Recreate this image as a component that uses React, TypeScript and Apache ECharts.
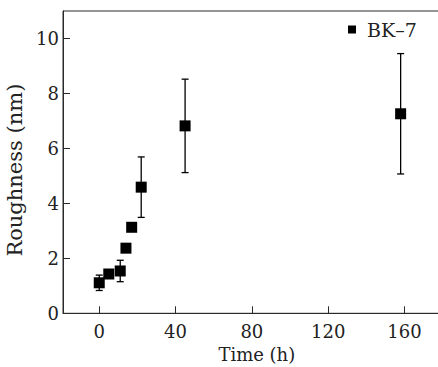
import React, { useEffect, useRef } from "react";
import * as echarts from "echarts";

const seriesName = "BK–7";
const times = [0, 5, 11, 14, 17, 22, 45, 158];
const roughness = [1.11, 1.43, 1.54, 2.37, 3.13, 4.59, 6.82, 7.26];
const errors = [0.28, 0, 0.39, 0, 0, 1.1, 1.7, 2.19];
const xTicks = [0, 40, 80, 120, 160];
const yTicks = [0, 2, 4, 6, 8, 10];

const FONT = "DejaVu Serif";
const AX = "#2a2a2a";

export default function App() {
  const ref = useRef<HTMLDivElement>(null);
  useEffect(() => {
    if (!ref.current) return;
    const chart = echarts.init(ref.current, undefined, { renderer: "svg" });
    const pts = times.map((t, i) => [t, roughness[i]]);
    const bars = times
      .map((t, i) => [t, roughness[i] - errors[i], roughness[i] + errors[i], errors[i]])
      .filter((d) => d[3] > 0);
    chart.setOption({
      animation: false,
      backgroundColor: "#fff",
      textStyle: { fontFamily: FONT },
      grid: {
        left: 63,
        top: 11,
        width: 379.6,
        bottom: 53.7,
        show: true,
        borderColor: AX,
        borderWidth: 1,
        containLabel: false,
        outerBoundsMode: "none",
      },
      legend: {
        data: [seriesName],
        left: 343,
        top: 15,
        icon: "rect",
        itemWidth: 8,
        itemHeight: 8,
        textStyle: { fontFamily: FONT, fontSize: 19, color: "#222", padding: [0, 0, 0, 6] },
      },
      xAxis: {
        type: "value",
        min: -19,
        max: 180,
        name: "Time (h)",
        nameLocation: "middle",
        nameGap: 32,
        nameTextStyle: { fontFamily: FONT, fontSize: 18, color: "#222", padding: [0, 0, 0, 8] },
        axisLine: { show: true, onZero: false, lineStyle: { color: AX, width: 1 } },
        axisTick: { show: true, inside: true, length: 7, customValues: xTicks, lineStyle: { color: AX, width: 1 } },
        axisLabel: { customValues: xTicks, fontFamily: FONT, fontSize: 18, color: "#222", margin: 9 },
        splitLine: { show: false },
      },
      yAxis: {
        type: "value",
        min: 0,
        max: 11,
        name: "Roughness (nm)",
        nameLocation: "middle",
        nameGap: 31,
        nameTextStyle: { fontFamily: FONT, fontSize: 21, color: "#222", padding: [0, 16, 0, 0] },
        axisLine: { show: true, onZero: false, lineStyle: { color: AX, width: 1 } },
        axisTick: { show: true, inside: true, length: 7, customValues: yTicks, lineStyle: { color: AX, width: 1 } },
        axisLabel: { customValues: yTicks, fontFamily: FONT, fontSize: 18, color: "#222", margin: 4 },
        splitLine: { show: false },
      },
      series: [
        {
          type: "custom",
          z: 1,
          silent: true,
          encode: { x: 0, y: [1, 2] },
          data: bars,
          renderItem: (params: any, api: any) => {
            const x = api.value(0);
            const lo = api.value(1);
            const hi = api.value(2);
            const top = api.coord([x, hi]);
            const bot = api.coord([x, lo]);
            const hw = 3.5;
            const style = { stroke: "#000", lineWidth: 1.3 };
            return {
              type: "group",
              children: [
                { type: "line", shape: { x1: top[0], y1: top[1], x2: bot[0], y2: bot[1] }, style },
                { type: "line", shape: { x1: top[0] - hw, y1: top[1], x2: top[0] + hw, y2: top[1] }, style },
                { type: "line", shape: { x1: bot[0] - hw, y1: bot[1], x2: bot[0] + hw, y2: bot[1] }, style },
              ],
            };
          },
        },
        {
          name: seriesName,
          type: "scatter",
          z: 3,
          symbol: "rect",
          symbolSize: 11,
          itemStyle: { color: "#000", opacity: 1 },
          data: pts,
        },
      ],
    });
    return () => chart.dispose();
  }, []);
  return <div ref={ref} style={{ position: "fixed", left: 0, top: 0, width: 438, height: 367 }} />;
}
